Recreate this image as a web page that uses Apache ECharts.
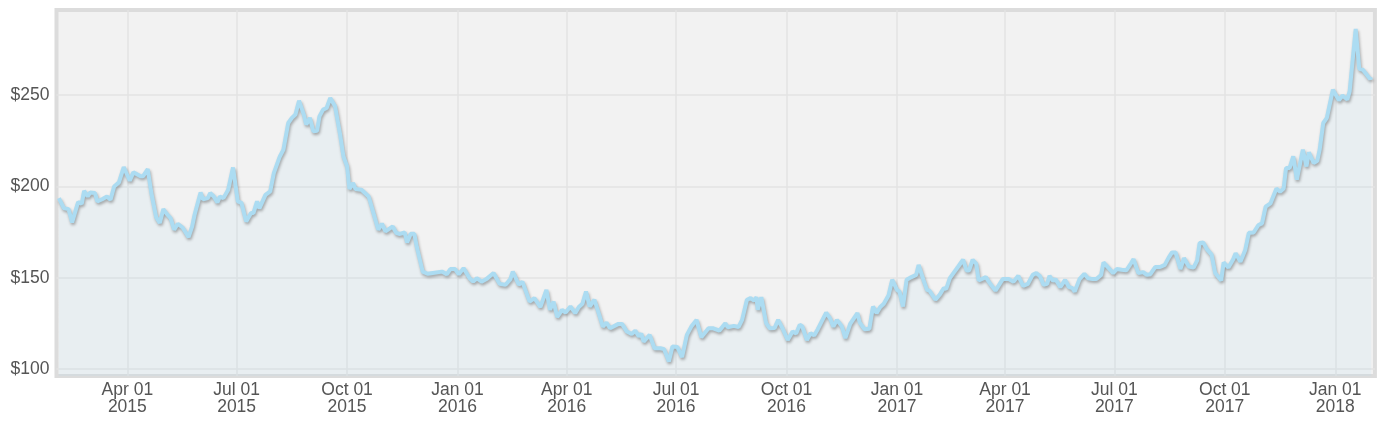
<!DOCTYPE html>
<html>
<head>
<meta charset="utf-8">
<script src="https://cdn.jsdelivr.net/npm/echarts@6/dist/echarts.min.js"></script>
<style>
html,body{margin:0;padding:0;background:#fff;}
#chart{width:1395px;height:433px;}
</style>
</head>
<body>
<div id="chart"></div>
<script>
// Days since 2015-02-01 (UTC) for each observation
const dayOffsets = [2,6,10,13,18,21,23,26,28,32,34,38,42,45,48,52,56,61,64,70,72,76,79,83,86,89,92,95,98,101,105,110,113,115,120,122,126,128,131,134,136,139,143,147,
151,154,158,162,164,167,169,174,178,181,186,189,193,196,199,202,206,208,211,214,217,219,222,225,228,232,236,239,242,244,247,249,254,260,264,268,271,274,280,283,286,290,292,295,298,300,305,309,312,321,325,328,332,335,
339,344,347,350,354,358,364,369,374,378,380,385,388,394,398,403,408,411,414,417,421,424,428,432,435,438,441,444,448,452,455,458,461,468,471,475,479,482,485,487,489,494,498,503,506,510,513,517,521,525,529,533,537,543,547,552,557,559,564,568,571,575,578,581,583,584,587,591,594,598,601,605,609,613,616,619,621,625,628,631,634,641,644,647,650,654,657,661,667,669,673,677,680,683,686,689,693,696,700,702,705,708,712,716,718,722,725,727,732,736,739,741,744,747,751,755,758,760,763,766,768,774,777,782,788,793,797,801,805,809,813,816,819,822,825,827,830,832,836,840,843,846,848,852,856,859,863,866,870,872,877,880,883,887,891,895,897,901,905,908,911,915,919,923,926,929,932,936,939,943,947,950,952,955,958,962,965,970,972,976,980,982,986,990,993,997,1001,1004,1007,1011,1016,1019,1022,1024,1027,1030,1033,1038,1041,1043,1047,1050,1052,1055,1058,1063,1068,1071,1075,1077,1082,1085,1088,1094,1095];

const prices = [193.6,188.2,187.6,180.3,191.5,190.5,197.6,194.5,196.7,196.4,191.8,193,194.5,192.7,200,202.2,210.6,203.1,207.7,205.5,205.5,209.5,196.4,183.2,180,187.6,184.8,182.7,176.3,179.6,177.5,172.3,178.1,184.5,196.7,193,193.6,196.4,194.5,191.2,194.5,193.6,198.2,210.4,
191.8,191,180.8,185.4,185.4,191.8,188,195.4,197.3,207.3,216.4,220.1,234.7,237.5,239.3,246.9,239.3,233.8,237.5,230.1,230.4,238.3,242,242.9,248.4,243.8,229.2,216.4,211,198.6,201.9,198.6,198.2,194.5,185.4,176.3,179.6,175.4,178.1,174.5,174,174.8,169.3,174.1,174.1,167.1,153.4,152.2,152.5,153.4,151.9,154.8,154.8,151.9,
155.3,149.8,147.9,149.8,147.9,149.3,152.6,146.7,146.2,149.3,153.4,146.2,147.9,137,138.9,134,143.4,132.5,137,128.5,132.5,131,134.3,130.7,134,135.8,142.5,134.3,138,129.7,123.3,125.5,122.4,124.8,124.8,120.6,119.3,121.1,117.9,119.5,115.1,118.8,111.5,111.5,111,104.2,112.4,112.2,106.6,118.8,123.7,127,117.5,122.4,122.4,121.1,125.2,123,123.7,123.1,127,138,138.9,137.5,139.4,132.5,139.4,125.2,122.4,122.5,127,121.9,116,120.6,119.5,124.3,123.5,116,119.7,118.5,121.9,131,128.1,123.3,127,123.5,117,124.8,130.7,125.5,121.9,122.2,134.3,130.7,134,135.8,140.5,149,143.4,142.5,134.3,148.9,150.4,151.6,157.1,148.9,143.4,143,138,141.2,144.4,144,149.8,152.6,156.2,159.9,154,154,159.9,157.7,148.5,150.4,147.3,143,149.3,149.3,147.9,151.1,145.6,146.7,151.6,152.6,151,146.2,146.7,151.1,148.3,149.3,144.9,148.9,145.1,144.4,142.5,149.3,152.2,149.8,149.3,149.3,151.6,158.4,154.8,152.6,154.8,154.4,154.1,158.1,160.2,152.6,153.1,151.6,152,155.9,155.9,157.1,160.8,163.9,163.9,154.8,160.8,156.2,155.6,159.6,169.1,169.4,165.7,162.7,152.6,148.5,158.4,155.6,160.2,163.5,158.8,165.2,174.6,174.8,178.9,179.8,188.9,190.7,198.9,197.1,198.9,210.1,210.1,216.5,203.7,220.1,210.9,218.6,212.8,214,220.1,234.7,237.5,252.9,247.1,249.7,247.5,252.1,286.2,264.3,263.8,258.8,259.9];

const yTicks = [100, 150, 200, 250];
const xTickDates = ['2015-04-01','2015-07-01','2015-10-01','2016-01-01','2016-04-01','2016-07-01','2016-10-01','2017-01-01','2017-04-01','2017-07-01','2017-10-01','2018-01-01'];
const xTickLabels = ['Apr 01\n2015','Jul 01\n2015','Oct 01\n2015','Jan 01\n2016','Apr 01\n2016','Jul 01\n2016','Oct 01\n2016','Jan 01\n2017','Apr 01\n2017','Jul 01\n2017','Oct 01\n2017','Jan 01\n2018'];

const DAY = 86400000;
const startTs = Date.UTC(2015, 1, 1);
function ts(s){ const p = s.split('-').map(Number); return Date.UTC(p[0], p[1]-1, p[2]); }
const seriesData = dayOffsets.map((d, i) => [startTs + d * DAY, prices[i]]);
const xTickTs = xTickDates.map(ts);
const labelByTs = {};
xTickTs.forEach((t, i) => { labelByTs[t] = xTickLabels[i]; });

const chart = echarts.init(document.getElementById('chart'), null, {renderer: 'canvas'});
chart.setOption({
  animation: false,
  backgroundColor: '#ffffff',
  grid: {
    show: true,
    left: 56.5, right: 20.1, top: 10, bottom: 57,
    backgroundColor: '#f2f2f2',
    borderColor: '#dcdcdc',
    borderWidth: 4,
    containLabel: false
  },
  xAxis: {
    type: 'value',
    min: startTs,
    max: startTs + 1098 * DAY,
    axisLine: {show: false},
    axisTick: {show: false, customValues: xTickTs},
    splitLine: {show: true, lineStyle: {color: '#e3e3e3', width: 1.5}},
    axisLabel: {
      customValues: xTickTs,
      formatter: function (v) { return labelByTs[v] || ''; },
      color: '#555555',
      fontFamily: 'Liberation Sans, Arial, sans-serif',
      fontSize: 17.5,
      lineHeight: 17,
      margin: 6,
      align: 'center'
    }
  },
  yAxis: {
    type: 'value',
    min: 96.3,
    max: 296.5,
    axisLine: {show: false},
    axisTick: {show: false, customValues: yTicks},
    splitLine: {show: true, lineStyle: {color: '#e3e3e3', width: 1.5}},
    axisLabel: {
      customValues: yTicks,
      formatter: function (v) { return '$' + v; },
      color: '#555555',
      fontFamily: 'Liberation Sans, Arial, sans-serif',
      fontSize: 17.5,
      margin: 7
    }
  },
  series: [{
    type: 'line',
    data: seriesData,
    showSymbol: false,
    smooth: false,
    lineStyle: {
      color: '#acdcf2',
      width: 4,
      shadowColor: 'rgba(0,0,0,0.3)',
      shadowBlur: 3,
      shadowOffsetX: 1,
      shadowOffsetY: 2
    },
    areaStyle: {color: 'rgba(175,215,235,0.22)'}
  }]
});
</script>
</body>
</html>
